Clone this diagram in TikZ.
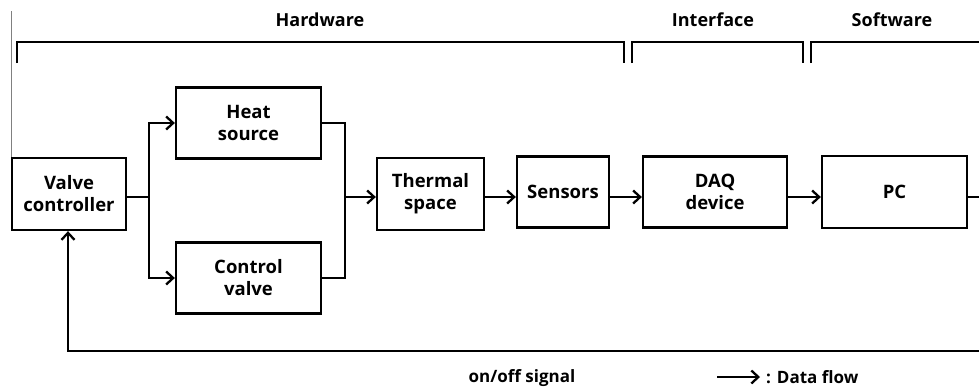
\documentclass[tikz,border=0pt]{standalone}
\usepackage{fontspec}
\setmainfont{Open Sans}
\usepackage{tikz}
\usetikzlibrary{arrows.meta, positioning, calc}

\begin{document}
\begin{tikzpicture}[
    x=1pt, y=-1pt,
    blockbox/.style={rectangle, draw=black, line width=2.3pt,
        text centered, align=center, inner sep=2pt,
        font=\fontsize{18.5}{22}\selectfont\bfseries},
    grouplabel/.style={font=\fontsize{18}{20}\selectfont\bfseries},
    notelabel/.style={font=\fontsize{17}{19}\selectfont\bfseries},
    flow/.style={-{Straight Barb[length=7pt,width=13pt]}, line width=2.3pt},
    wire/.style={line width=2.3pt},
    brace/.style={line width=2.3pt},
]
\useasboundingbox (0,0) rectangle (979,389);
\clip (0,0) rectangle (979,389);

% ── GROUP BRACKETS ──────────────────────────────────────────────────────────
\draw[brace] (17,63) -- (17,42) -- (624,42) -- (624,63);
\draw[brace] (632,63) -- (632,42) -- (803,42) -- (803,63);
\draw[brace] (811,63) -- (811,42) -- (1000,42);

\node[grouplabel] at (320,20) (hw)  {Hardware};
\node[grouplabel] at (713,20) (itf) {Interface};
\node[grouplabel] at (892,20) (sw)  {Software};

% thin edge line above the controller
\draw[gray, line width=0.6pt] (11,11) -- (11,158);

% ── BLOCKS ──────────────────────────────────────────────────────────────────
\node[blockbox, minimum width=114pt, minimum height=72pt] at (69,194)    (vc)      {Valve\\controller};
\node[blockbox, minimum width=145pt, minimum height=71pt] at (248.5,123) (heat)    {Heat\\source};
\node[blockbox, minimum width=145pt, minimum height=71pt] at (248.5,278) (cvalve)  {Control\\valve};
\node[blockbox, minimum width=107pt, minimum height=72pt] at (430.5,194) (thermal) {Thermal\\space};
\node[blockbox, minimum width=92pt,  minimum height=71pt] at (563,192)   (sensors) {Sensors};
\node[blockbox, minimum width=144pt, minimum height=71pt] at (715,192)   (daq)     {DAQ\\device};
\node[blockbox, minimum width=145pt, minimum height=72pt] at (894.5,192) (pc)      {PC};

% ── CONNECTORS ──────────────────────────────────────────────────────────────
\coordinate (split) at (149,197);
\coordinate (merge) at (345,197);

\draw[wire] (vc.east |- split) -- (split);
\draw[flow] (split) |- (heat.west);
\draw[flow] (split) |- (cvalve.west);
\draw[wire] (heat.east) -| (merge);
\draw[wire] (cvalve.east) -| (merge);
\draw[flow] (merge) -- (thermal.west |- merge);
\draw[flow] (thermal.east |- merge) -- (sensors.west |- merge);
\draw[flow] (sensors.east |- merge) -- (daq.west |- merge);
\draw[flow] (daq.east |- merge) -- (pc.west |- merge);

% feedback loop (runs past the right edge)
\coordinate (fb) at (1000,351);
\draw[flow] (pc.east |- merge) -- (fb |- merge) -- (fb) -- ($(vc.south |- fb)+(-1,0)$) -- ($(vc.south)+(-1,0)$);

% ── NOTES ───────────────────────────────────────────────────────────────────
\node[notelabel] at (522,378) (sig) {on/off signal};
\coordinate (leg) at (717,377);
\node[notelabel, anchor=west, inner sep=6pt] at (760,377) (legtxt) {: Data flow};
\draw[flow] (leg) -- (legtxt.west);

\end{tikzpicture}
\end{document}
